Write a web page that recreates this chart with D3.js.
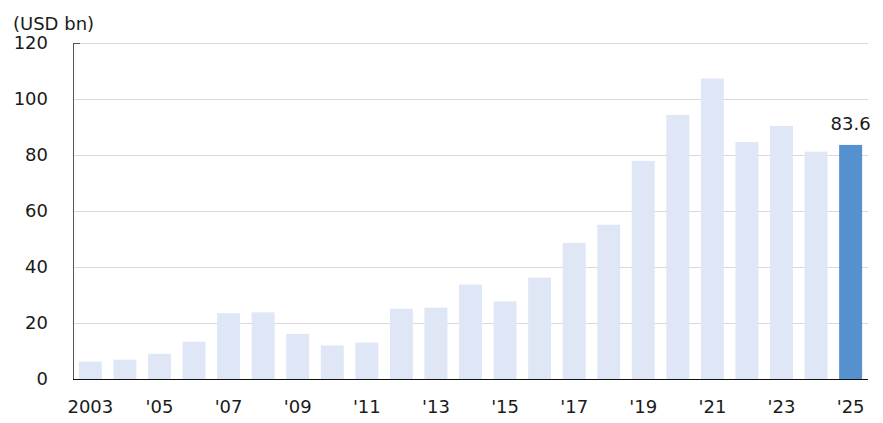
<!DOCTYPE html>
<html>
<head>
<meta charset="utf-8">
<script src="https://cdn.jsdelivr.net/npm/d3@7"></script>
<style>
	body { margin: 0; background: #fff; }
	svg text { font-family: 'DejaVu Sans', Verdana, sans-serif; fill: #1a1a1a; }
</style>
</head>
<body>
<div id="chart"></div>
<script>
var years = [2003, 2004, 2005, 2006, 2007, 2008, 2009, 2010, 2011, 2012, 2013, 2014,
	2015, 2016, 2017, 2018, 2019, 2020, 2021, 2022, 2023, 2024, 2025];
var values = [6.2, 6.9, 9.0, 13.3, 23.5, 23.8, 16.1, 12.0, 13.0, 25.1, 25.5, 33.7,
	27.7, 36.2, 48.6, 55.1, 77.9, 94.3, 107.3, 84.6, 90.4, 81.2, 83.6];
var yTicks = [0, 20, 40, 60, 80, 100, 120];
var xTickYears = [2003, 2005, 2007, 2009, 2011, 2013, 2015, 2017, 2019, 2021, 2023, 2025];
var unitLabel = '(USD bn)';
var highlightYear = 2025;

const MARGIN = { TOP: 43, LEFT: 73, BOTTOM: 44, RIGHT: 15 };
const W = 883, H = 423;
const WIDTH = W - MARGIN.LEFT - MARGIN.RIGHT;
const HEIGHT = H - MARGIN.TOP - MARGIN.BOTTOM;
const FONT = '18px';

var svg = d3.select('#chart').append('svg')
	.attr('width', W)
	.attr('height', H);

var g = svg.append('g')
	.attr('transform', 'translate(' + MARGIN.LEFT + ',' + MARGIN.TOP + ')');

var x = d3.scaleBand().domain(years).range([0, WIDTH]).paddingInner(0.335).paddingOuter(0.17);
var y = d3.scaleLinear().domain([0, 120]).range([HEIGHT, 0]);

// gridlines
g.selectAll('.grid').data(yTicks.filter(function (d) { return d > 0; })).enter()
	.append('line')
	.attr('class', 'grid')
	.attr('x1', 0)
	.attr('x2', WIDTH)
	.attr('y1', function (d) { return y(d) + 0.5; })
	.attr('y2', function (d) { return y(d) + 0.5; })
	.style('stroke', '#d9d9d9')
	.style('stroke-width', 1);

// bars
g.selectAll('.bar').data(years).enter()
	.append('rect')
	.attr('class', 'bar')
	.attr('x', function (d) { return x(d); })
	.attr('width', x.bandwidth())
	.attr('y', function (d, i) { return y(values[i]); })
	.attr('height', function (d, i) { return HEIGHT - y(values[i]); })
	.attr('fill', function (d) { return d === highlightYear ? '#5591cf' : '#dfe7f6'; });

// y axis
var yAxis = d3.axisLeft(y).tickValues(yTicks).tickSize(0).tickPadding(25);
var yG = g.append('g').attr('class', 'y axis').call(yAxis);
yG.select('.domain').remove();
yG.selectAll('text').style('font-size', FONT);
g.append('line')
	.attr('x1', 0.5).attr('x2', 0.5)
	.attr('y1', 0).attr('y2', HEIGHT)
	.style('stroke', '#555')
	.style('stroke-width', 1);
g.append('line')
	.attr('x1', 0).attr('x2', 7)
	.attr('y1', 0.5).attr('y2', 0.5)
	.style('stroke', '#555');

// x axis
var xAxis = d3.axisBottom(x).tickValues(xTickYears).tickSize(0).tickPadding(21)
	.tickFormat(function (d) { return d === 2003 ? '2003' : "'" + String(d).slice(2); });
var xG = g.append('g')
	.attr('class', 'x axis')
	.attr('transform', 'translate(0,' + HEIGHT + ')')
	.call(xAxis);
xG.select('.domain').remove();
xG.selectAll('text').style('font-size', FONT);
g.append('line')
	.attr('x1', 0).attr('x2', WIDTH)
	.attr('y1', HEIGHT + 0.5).attr('y2', HEIGHT + 0.5)
	.style('stroke', '#111')
	.style('stroke-width', 1.2);

// unit label
svg.append('text')
	.attr('x', 13)
	.attr('y', 30)
	.style('font-size', FONT)
	.text(unitLabel);

// value label on highlighted bar
var hi = years.indexOf(highlightYear);
g.append('text')
	.attr('x', x(highlightYear) + x.bandwidth() / 2)
	.attr('y', y(values[hi]) - 15)
	.attr('text-anchor', 'middle')
	.style('font-size', FONT)
	.text(values[hi].toFixed(1));
</script>
</body>
</html>
